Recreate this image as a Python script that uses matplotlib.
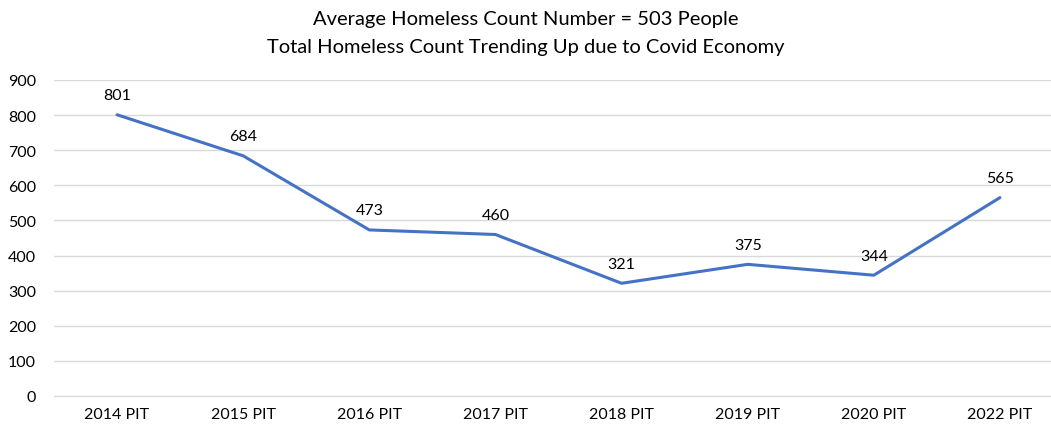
import matplotlib
matplotlib.use("Agg")
import matplotlib.pyplot as plt

categories = ["2014 PIT", "2015 PIT", "2016 PIT", "2017 PIT",
              "2018 PIT", "2019 PIT", "2020 PIT", "2022 PIT"]
counts = [801, 684, 473, 460, 321, 375, 344, 565]
y_ticks = [0, 100, 200, 300, 400, 500, 600, 700, 800, 900]
title_lines = ["Average Homeless Count Number = 503 People",
               "Total Homeless Count Trending Up due to Covid Economy"]

plt.rcParams["font.family"] = ["Lato", "DejaVu Sans"]

W, H = 1051, 427
fig = plt.figure(figsize=(W / 100, H / 100), dpi=100)
left, right = 54 / W, 1063 / W
bottom, top = 1 - 397 / H, 1 - 81 / H
ax = fig.add_axes([left, bottom, right - left, top - bottom])

x = list(range(len(categories)))
ax.plot(x, counts, color="#4472C4", linewidth=2.2, solid_capstyle="round",
        solid_joinstyle="round")
for xi, v in zip(x, counts):
    ax.annotate(str(v), (xi, v), xytext=(0, 9), textcoords="offset points",
                ha="center", va="bottom", fontsize=11.5, color="#000000")

ax.set_xlim(-0.5, len(categories) - 0.5)
ax.set_ylim(0, 900)
ax.set_yticks(y_ticks)
ax.set_xticks(x)
ax.set_xticklabels(categories)
ax.tick_params(axis="both", length=0, labelsize=11.5, colors="#000000")
ax.tick_params(axis="y", pad=13)
ax.tick_params(axis="x", pad=8)
ax.grid(axis="y", color="#D9D9D9", linewidth=1)
ax.set_axisbelow(True)
for side in ["left", "right", "top"]:
    ax.spines[side].set_visible(False)
ax.spines["bottom"].set_color("#D9D9D9")

fig.text(0.5, 1 - 20 / H, title_lines[0], ha="center", va="center", fontsize=14.5)
fig.text(0.5, 1 - 47 / H, title_lines[1], ha="center", va="center", fontsize=14.5)

fig.savefig("out.png", dpi=100)
